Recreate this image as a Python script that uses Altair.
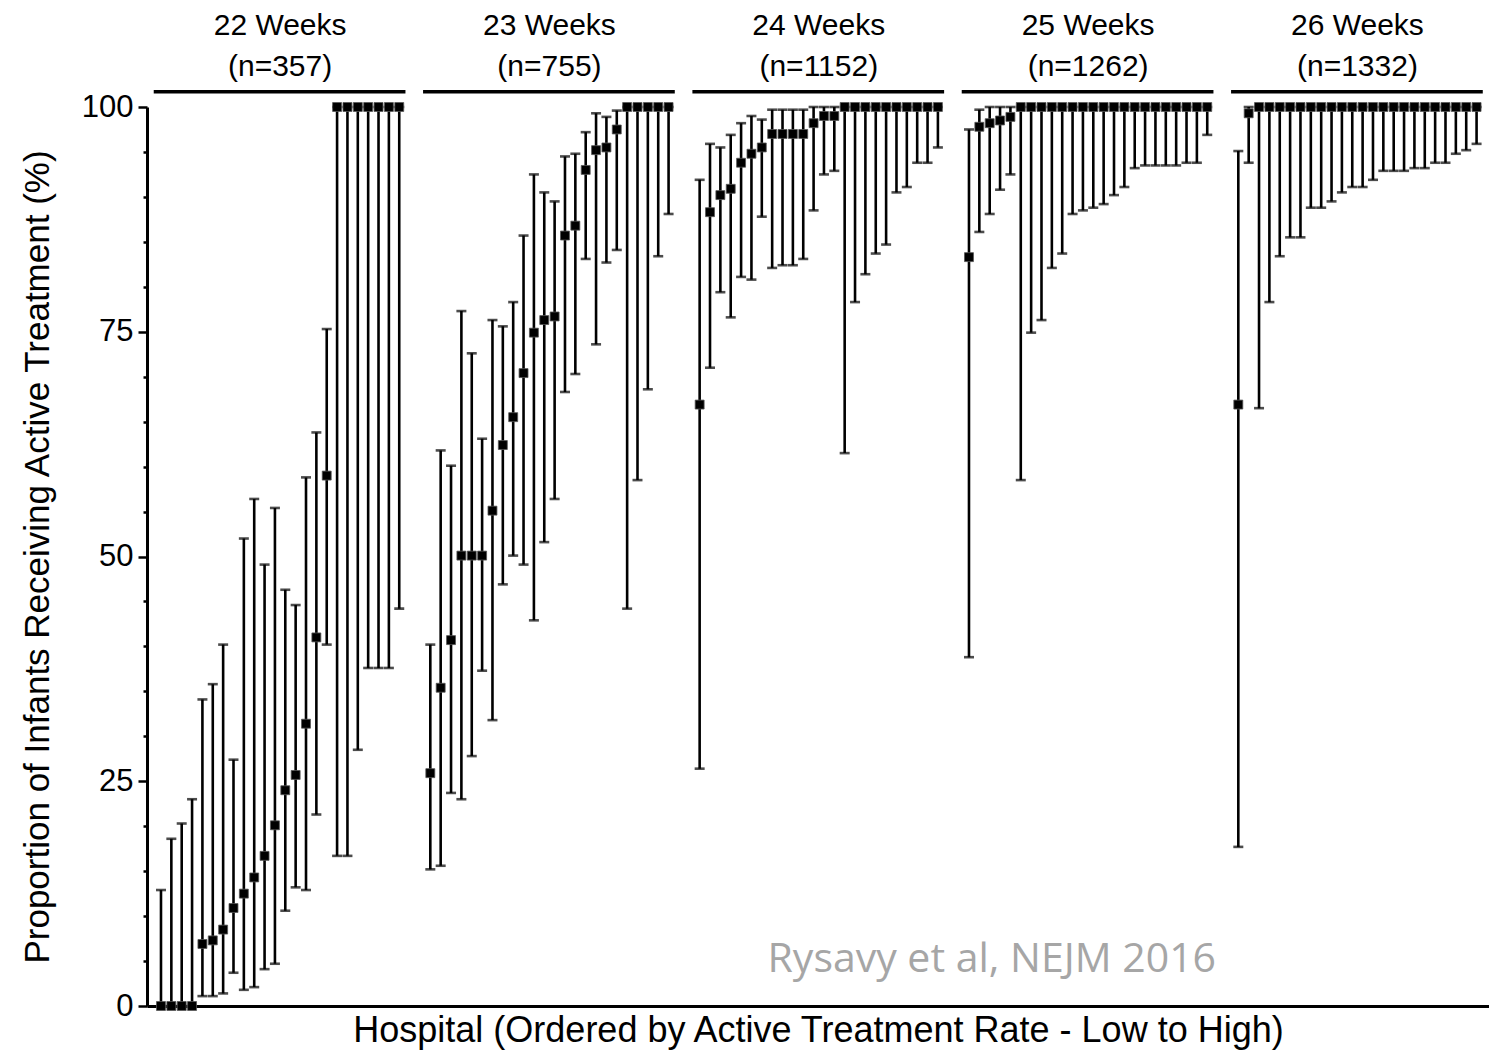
import altair as alt
import pandas as pd

# ---- data ----
groups = ["22 Weeks", "23 Weeks", "24 Weeks", "25 Weeks", "26 Weeks"]
group_n = ["(n=357)", "(n=755)", "(n=1152)", "(n=1262)", "(n=1332)"]

rate_22 = [0, 0, 0, 0, 6.9, 7.3, 8.5, 10.9, 12.5, 14.3, 16.7, 20.1, 24.0, 25.7, 31.4, 41.0, 59.0,
           100, 100, 100, 100, 100, 100, 100]
low_22 = [0, 0, 0, 0, 1.1, 1.1, 1.4, 3.7, 1.8, 2.1, 4.1, 4.7, 10.6, 13.2, 12.9, 21.3, 40.2,
          16.7, 16.7, 28.5, 37.6, 37.6, 37.6, 44.2]
high_22 = [12.9, 18.6, 20.3, 23.0, 34.1, 35.8, 40.2, 27.4, 52.0, 56.4, 49.1, 55.4, 46.3, 44.6, 58.8, 63.8, 75.3,
           100, 100, 100, 100, 100, 100, 100]

rate_23 = [25.9, 35.4, 40.7, 50.1, 50.1, 50.1, 55.1, 62.4, 65.5, 70.4, 74.9, 76.3, 76.7, 85.7, 86.8, 93.0,
           95.2, 95.5, 97.5, 100, 100, 100, 100, 100]
low_23 = [15.2, 15.6, 23.7, 23.0, 27.8, 37.3, 31.8, 46.9, 50.1, 49.1, 42.9, 51.6, 56.4, 68.3, 70.3, 83.1,
          73.6, 82.7, 84.1, 44.2, 58.5, 68.6, 83.4, 88.1]
high_23 = [40.2, 61.8, 60.1, 77.3, 72.6, 63.1, 76.3, 75.6, 78.3, 85.7, 92.5, 90.5, 89.5, 94.5, 94.8, 97.2,
           99.3, 98.9, 99.6, 100, 100, 100, 100, 100]

rate_24 = [66.9, 88.3, 90.2, 90.9, 93.8, 94.8, 95.5, 97.0, 97.0, 97.0, 97.0, 98.2, 99.0, 99.0,
           100, 100, 100, 100, 100, 100, 100, 100, 100, 100]
low_24 = [26.4, 71.0, 79.4, 76.6, 81.1, 80.8, 87.8, 82.1, 82.4, 82.4, 83.1, 88.5, 92.5, 92.9,
          61.5, 78.3, 81.4, 83.7, 84.7, 90.5, 91.1, 93.8, 93.8, 95.5]
high_24 = [91.9, 95.9, 95.5, 96.9, 98.2, 99.0, 98.6, 99.7, 99.7, 99.7, 99.7, 100, 100, 100,
           100, 100, 100, 100, 100, 100, 100, 100, 100, 100]

rate_25 = [83.3, 97.8, 98.2, 98.5, 98.9] + [100] * 19
low_25 = [38.8, 86.1, 88.1, 90.8, 92.5, 58.5, 74.9, 76.3, 82.1, 83.7, 88.1, 88.5, 88.8, 89.2, 90.2,
          91.1, 93.2, 93.5, 93.5, 93.5, 93.5, 93.8, 93.8, 96.9]
high_25 = [97.5, 99.7] + [100] * 22

rate_26 = [66.9, 99.3] + [100] * 22
low_26 = [17.7, 93.8, 66.5, 78.3, 83.4, 85.5, 85.5, 88.8, 88.8, 89.5, 90.5, 91.1, 91.1, 91.9, 92.9,
          92.9, 92.9, 93.2, 93.2, 93.8, 93.8, 94.8, 95.2, 95.9]
high_26 = [95.1] + [100] * 23

series = [(rate_22, low_22, high_22), (rate_23, low_23, high_23), (rate_24, low_24, high_24),
          (rate_25, low_25, high_25), (rate_26, low_26, high_26)]

SLOT = 26  # 24 hospitals + gap per gestational-age group

rows = []
for g, (r, lo, hi) in enumerate(series):
    for i in range(len(r)):
        rows.append({"group": groups[g], "pos": g * SLOT + i, "rate": r[i], "low": lo[i], "high": hi[i]})
df = pd.DataFrame(rows)

hdr = pd.DataFrame({
    "week": groups,
    "n": group_n,
    "center": [g * SLOT + 11.5 for g in range(len(groups))],
    "start": [g * SLOT - 0.7 for g in range(len(groups))],
    "end": [g * SLOT + 23.6 for g in range(len(groups))],
})
HDR_LINE_Y, HDR_N_Y, HDR_WEEK_Y = 101.7, 104.5, 109.0

note = pd.DataFrame({"label": ["Rysavy et al, NEJM 2016"], "pos": [80.2], "y": [5.1]})

FONT = "Liberation Sans, Arial, Helvetica"

xs = alt.Scale(domain=[-1.35, 128.2], nice=False, zero=False)
ys = alt.Scale(domain=[0, 100], nice=False)

x_axis = alt.Axis(labels=False, ticks=False, grid=False, domain=True, domainColor="black", domainWidth=3,
                  title="Hospital (Ordered by Active Treatment Rate - Low to High)", titleFont=FONT,
                  titleFontSize=36, titleFontWeight="normal", titleColor="black", titlePadding=7)
y_axis = alt.Axis(values=list(range(0, 101, 5)),
                  labelExpr="datum.value % 25 === 0 ? datum.label : ''",
                  tickSize={"condition": {"test": "datum.value % 25 === 0", "value": 9}, "value": 4},
                  tickWidth=2.5, tickColor="black", domainColor="black", domainWidth=3, grid=False,
                  labelFont=FONT, labelFontSize=31, labelColor="black", labelPadding=5,
                  title="Proportion of Infants Receiving Active Treatment (%)", titleFont=FONT,
                  titleFontSize=35, titleFontWeight="normal", titleColor="black", titlePadding=26)

base = alt.Chart(df)

bars = base.mark_rule(color="black", strokeWidth=2.6).encode(
    x=alt.X("pos:Q", scale=xs, axis=x_axis),
    y=alt.Y("low:Q", scale=ys, axis=y_axis),
    y2="high:Q",
)
cap_lo = base.mark_tick(color="black", thickness=2.6, size=10, orient="horizontal").encode(
    x=alt.X("pos:Q", scale=xs), y=alt.Y("low:Q", scale=ys))
cap_hi = base.mark_tick(color="black", thickness=2.6, size=10, orient="horizontal").encode(
    x=alt.X("pos:Q", scale=xs), y=alt.Y("high:Q", scale=ys))
pts = base.mark_square(color="black", opacity=1, size=80, stroke="#555555", strokeWidth=0.8).encode(
    x=alt.X("pos:Q", scale=xs), y=alt.Y("rate:Q", scale=ys))

hb = alt.Chart(hdr)
hlines = hb.mark_rule(color="black", strokeWidth=3.5).encode(
    x=alt.X("start:Q", scale=xs), x2="end:Q", y=alt.Y("yl:Q", scale=ys)
).transform_calculate(yl=str(HDR_LINE_Y))
hweek = hb.mark_text(font=FONT, fontSize=30, color="black", baseline="middle").encode(
    x=alt.X("center:Q", scale=xs), y=alt.Y("yw:Q", scale=ys), text="week:N"
).transform_calculate(yw=str(HDR_WEEK_Y))
hn = hb.mark_text(font=FONT, fontSize=30, color="black", baseline="middle").encode(
    x=alt.X("center:Q", scale=xs), y=alt.Y("yn:Q", scale=ys), text="n:N"
).transform_calculate(yn=str(HDR_N_Y))

wm = alt.Chart(note).mark_text(font="Open Sans, Lato", fontSize=41, color="#a6a6a6",
                               baseline="middle").encode(
    x=alt.X("pos:Q", scale=xs), y=alt.Y("y:Q", scale=ys), text="label:N")

chart = alt.layer(bars, cap_lo, cap_hi, pts, hlines, hweek, hn, wm).properties(
    width=1342, height=899,
    autosize=alt.AutoSizeParams(type="none"),
    padding={"left": 147, "top": 107, "right": 0, "bottom": 46},
    background="white",
).configure_view(stroke=None)

chart.save("out.html", embed_options={"renderer": "svg", "actions": False})
